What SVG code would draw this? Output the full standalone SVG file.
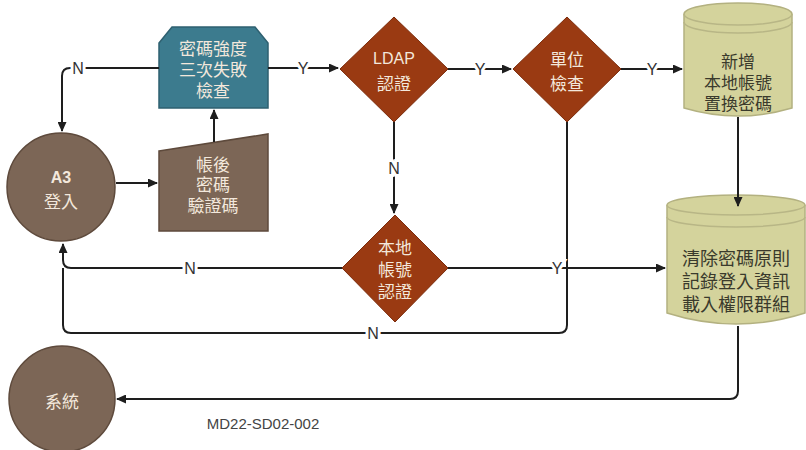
<svg xmlns="http://www.w3.org/2000/svg" width="806" height="450" viewBox="0 0 806 450">
<defs>
<marker id="arr" markerUnits="userSpaceOnUse" markerWidth="10" markerHeight="9" refX="9" refY="4.5" orient="auto">
<path d="M0,0 L10,4.5 L0,9 z" fill="#1e1e1e"/>
</marker>
<style>
.cx{font-family:"Noto Sans CJK TC","Liberation Sans",sans-serif;font-size:17px;text-anchor:middle;dominant-baseline:central}
.lt{fill:#f3e8dc}
.dk{fill:#3a3a2c}
.lbl{font-family:"Liberation Sans",Arial,sans-serif;font-size:16px;fill:#333;text-anchor:middle;dominant-baseline:central;stroke:#fff;stroke-width:6px;paint-order:stroke}
.ln{fill:none;stroke:#1e1e1e;stroke-width:2}
.dia{fill:#9a3a12;stroke:#7c2c0c;stroke-width:1}
.cir{fill:#7c6656;stroke:#5e4a3c;stroke-width:1.5}
.cyl{fill:#d4d39c;stroke:#b3b180;stroke-width:1.5}
.rim{fill:none;stroke:#b8b686;stroke-width:1.5}
</style>
</defs>
<rect width="806" height="450" fill="#fff"/>
<g id="a3">
<circle class="cir" cx="61" cy="187" r="54"/>
<text class="cx lt" x="61" y="177"><tspan style="font-family:'Liberation Sans',Arial,sans-serif;font-size:16px;font-weight:bold">A3</tspan><tspan x="61" dy="23">登入</tspan></text>
</g>
<g id="pwcheck">
<polygon points="159,43 172,27 255,27 268,43 268,108 159,108" fill="#3c7b8e" stroke="#2e6070" stroke-width="1.5"/>
<text class="cx lt" x="213" y="47">密碼強度<tspan x="213" dy="21">三次失敗</tspan><tspan x="213" dy="21">檢查</tspan></text>
</g>
<g id="input">
<polygon points="159,151 268,134 268,231 159,231" fill="#7c6656" stroke="#5e4a3c" stroke-width="1.5"/>
<text class="cx lt" x="213" y="163">帳後<tspan x="213" dy="20">密碼</tspan><tspan x="213" dy="21">驗證碼</tspan></text>
</g>
<g id="ldap">
<polygon class="dia" points="394,17 448,69 394,122 340,69"/>
<text class="cx lt" x="394" y="58"><tspan style="font-family:'Liberation Sans',Arial,sans-serif;font-size:16px">LDAP</tspan><tspan x="394" dy="24">認證</tspan></text>
</g>
<g id="unit">
<polygon class="dia" points="567,17 621,69 567,122 513,69"/>
<text class="cx lt" x="567" y="58">單位<tspan x="567" dy="24">檢查</tspan></text>
</g>
<g id="local">
<polygon class="dia" points="395,215 448,268 395,322 342,268"/>
<text class="cx lt" x="395" y="246">本地<tspan x="395" dy="22">帳號</tspan><tspan x="395" dy="22">認證</tspan></text>
</g>
<g id="newacct">
<path class="cyl" d="M684,14 A54,11 0 0 1 792,14 V108 Q738,124 684,108 Z"/>
<path class="rim" d="M684,14 A54,11 0 0 0 792,14"/>
<path class="rim" d="M684,22 A54,11 0 0 0 792,22"/>
<text class="cx dk" x="738" y="60">新增<tspan x="738" dy="21">本地帳號</tspan><tspan x="738" dy="21">置換密碼</tspan></text>
</g>
<g id="clear">
<path class="cyl" d="M667,205 A69,10 0 0 1 805,205 V313 Q736,335 667,313 Z"/>
<path class="rim" d="M667,205 A69,10 0 0 0 805,205"/>
<path class="rim" d="M667,217 A69,10 0 0 0 805,217"/>
<text class="cx dk" x="736" y="257" style="font-size:18px">清除密碼原則<tspan x="736" dy="23">記錄登入資訊</tspan><tspan x="736" dy="23">載入權限群組</tspan></text>
</g>
<g id="system">
<circle class="cir" cx="62" cy="399" r="53"/>
<text class="cx lt" x="62" y="400">系統</text>
</g>
<g id="connectors">
<path class="ln" d="M116,183 H157" marker-end="url(#arr)"/>
<path class="ln" d="M214,142 V110" marker-end="url(#arr)"/>
<path class="ln" d="M159,68 H70 Q62,68 62,76 V131" marker-end="url(#arr)"/>
<path class="ln" d="M268,68 H338" marker-end="url(#arr)"/>
<path class="ln" d="M448,69 H511" marker-end="url(#arr)"/>
<path class="ln" d="M621,69 H682" marker-end="url(#arr)"/>
<path class="ln" d="M394,122 V213" marker-end="url(#arr)"/>
<path class="ln" d="M567,122 V325 Q567,333 559,333 H71 Q63,333 63,325 V268"/>
<path class="ln" d="M342,268 H71 Q63,268 63,260 V244" marker-end="url(#arr)"/>
<path class="ln" d="M448,268 H665" marker-end="url(#arr)"/>
<path class="ln" d="M738,117 V206" marker-end="url(#arr)"/>
<path class="ln" d="M738,326 V391 Q738,399 730,399 H117" marker-end="url(#arr)"/>
<text class="lbl" x="78" y="68">N</text>
<text class="lbl" x="303" y="68">Y</text>
<text class="lbl" x="480" y="69">Y</text>
<text class="lbl" x="652" y="69">Y</text>
<text class="lbl" x="394" y="168">N</text>
<text class="lbl" x="190" y="268">N</text>
<text class="lbl" x="557" y="268">Y</text>
<text class="lbl" x="373" y="333">N</text>
</g>
<text x="263" y="423" style="font-family:'Liberation Sans',Arial,sans-serif;font-size:15px;fill:#444;text-anchor:middle;dominant-baseline:central">MD22-SD02-002</text>
</svg>
